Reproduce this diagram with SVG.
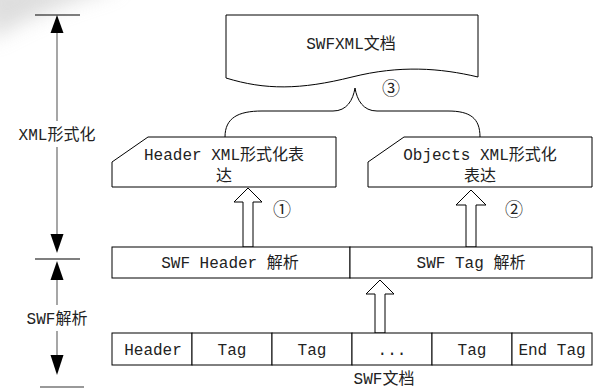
<svg xmlns="http://www.w3.org/2000/svg" width="593" height="389" viewBox="0 0 593 389">
<defs>
<style>
.box{fill:#fff;stroke:#000;stroke-width:1}
.t{font-family:"Liberation Mono","Noto Sans CJK SC",monospace;font-size:16px;fill:#222;text-anchor:middle}
.c{font-family:"Noto Sans CJK SC","DejaVu Sans",sans-serif;font-size:18px;fill:#222;text-anchor:middle}
.axis{stroke:#777;stroke-width:1.3;fill:none}
.tick{stroke:#000;stroke-width:1.2}
.ah{fill:#000}
.blk{fill:#fff;stroke:#000;stroke-width:1}
.brace{fill:none;stroke:#000;stroke-width:1}
</style>
<filter id="blur" x="-50%" y="-50%" width="200%" height="200%"><feGaussianBlur stdDeviation="10"/></filter>
</defs>
<rect width="593" height="389" fill="#fff"/>
<path d="M-10,40 Q40,10 110,-10 L120,-20 L-20,-20 Z" fill="#c8c8c8" opacity="0.6" filter="url(#blur)"/>

<g id="axis">
<line class="tick" x1="35" y1="15" x2="80" y2="15"/>
<polygon class="ah" points="57,15 50.5,33 63.5,33"/>
<line class="axis" x1="57" y1="33" x2="57" y2="121"/>
<line class="axis" x1="57" y1="147" x2="57" y2="234"/>
<polygon class="ah" points="57,253 50.5,234 63.5,234"/>
<line class="tick" x1="35" y1="259" x2="80" y2="259"/>
<polygon class="ah" points="57,261 50.5,280 63.5,280"/>
<line class="axis" x1="57" y1="280" x2="57" y2="305"/>
<line class="axis" x1="57" y1="331" x2="57" y2="355"/>
<polygon class="ah" points="57,375 50.5,355 63.5,355"/>
<line class="axis" x1="40" y1="387" x2="84" y2="387" stroke="#555"/>
<text class="t" x="57" y="140">XML形式化</text>
<text class="t" x="57" y="324">SWF解析</text>
</g>

<g id="connectors">
<path class="brace" d="M225,137 C225,118 238,111 262,111 L333,111 C347,111 353,100 355,88 C357,100 363,111 377,111 L448,111 C470,111 480,118 480,137"/>
<polygon class="blk" points="248,188 262,202 253,202 253,247 243,247 243,202 234,202"/>
<polygon class="blk" points="471,190 486,205 476,205 476,247 466,247 466,205 456,205"/>
<polygon class="blk" points="380,280 394,294 385,294 385,333 375,333 375,294 366,294"/>
<text class="c" x="391" y="95">③</text>
<text class="c" x="282" y="216">①</text>
<text class="c" x="514" y="216">②</text>
</g>

<g id="swfxml-doc">
<path class="box" d="M226,15 H478 V77 C440,68 400,65 352,77 C300,90 265,90 226,78 Z"/>
<text class="t" x="351" y="49">SWFXML文档</text>
</g>

<g id="header-xml">
<path class="box" d="M148,137 H336 V187 H112 V162 Z"/>
<text class="t" x="224" y="160">Header XML形式化表</text>
<text class="t" x="224" y="181">达</text>
</g>

<g id="objects-xml">
<path class="box" d="M404,137 H592 V187 H368 V162 Z"/>
<text class="t" x="480" y="160">Objects XML形式化</text>
<text class="t" x="480" y="181">表达</text>
</g>

<g id="swf-header-parse">
<rect class="box" x="112" y="247" width="238" height="31"/>
<text class="t" x="230" y="268">SWF Header 解析</text>
</g>
<g id="swf-tag-parse">
<rect class="box" x="350" y="247" width="242" height="31"/>
<text class="t" x="471" y="268">SWF Tag 解析</text>
</g>

<g id="swf-doc">
<rect class="box" x="112" y="333" width="80" height="32"/>
<rect class="box" x="192" y="333" width="80" height="32"/>
<rect class="box" x="272" y="333" width="80" height="32"/>
<rect class="box" x="352" y="333" width="80" height="32"/>
<rect class="box" x="432" y="333" width="80" height="32"/>
<rect class="box" x="512" y="333" width="80" height="32"/>
<text class="t" x="153" y="355">Header</text>
<text class="t" x="232" y="355">Tag</text>
<text class="t" x="312" y="355">Tag</text>
<text class="t" x="392" y="355">...</text>
<text class="t" x="472" y="355">Tag</text>
<text class="t" x="552" y="355">End Tag</text>
<text class="t" x="384" y="384">SWF文档</text>
</g>
</svg>
